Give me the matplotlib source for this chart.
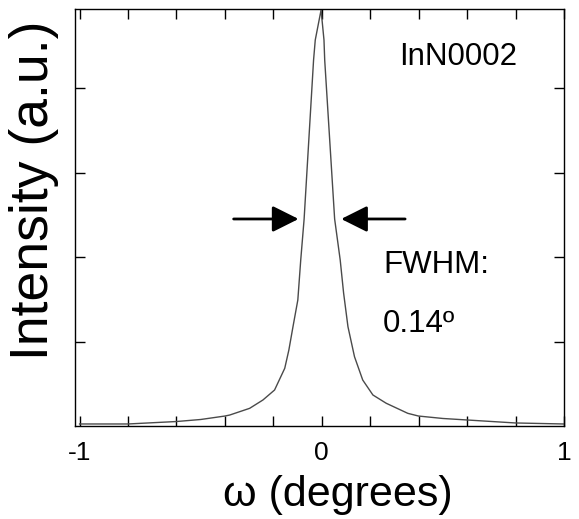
import matplotlib
matplotlib.use("Agg")
import matplotlib.pyplot as plt

plt.rcParams['font.family'] = ['Liberation Sans', 'DejaVu Sans']

# Data (omega in degrees, intensity in arbitrary units)
omega = [-1.0, -0.8, -0.6, -0.5, -0.4, -0.38, -0.298, -0.243, -0.195, -0.153,
         -0.136, -0.119, -0.099, -0.087, -0.073, -0.034, -0.027, -0.003,
         0.009, 0.012, 0.053, 0.076, 0.090, 0.108, 0.135, 0.169, 0.211,
         0.266, 0.355, 0.399, 0.5, 0.601, 0.799, 0.997]
intensity = [0.024, 0.024, 0.053, 0.077, 0.118, 0.130, 0.209, 0.308, 0.426, 0.683,
             0.899, 1.175, 1.491, 1.964, 2.450, 4.331, 4.568, 4.923,
             4.568, 4.331, 2.450, 1.964, 1.574, 1.175, 0.820, 0.544, 0.367,
             0.269, 0.150, 0.118, 0.089, 0.071, 0.036, 0.024]

x_major = [-1, 0, 1]
x_major_labels = ['-1', '0', '1']
x_minor = [-0.8, -0.6, -0.4, -0.2, 0.2, 0.4, 0.6, 0.8]
y_ticks = [1, 2, 3, 4]

fwhm_label = 'FWHM:'
fwhm_value = '0.14º'
sample_label = 'InN0002'

fig = plt.figure(figsize=(5.79, 5.19), dpi=100)
ax = fig.add_axes([75/579, 1 - 426/519, 489/579, 417/519])

ax.plot(omega, intensity, color='#4a4a4a', lw=1.0)

ax.set_xlim(-1.019, 0.998)
ax.set_ylim(0, 4.935)

ax.set_xticks(x_major)
ax.set_xticklabels(x_major_labels)
ax.set_xticks(x_minor, minor=True)
ax.set_yticks(y_ticks)
ax.set_yticklabels([])

ax.tick_params(axis='both', which='both', direction='in', length=7.2, width=1,
               top=True, right=True, color='black')
ax.tick_params(axis='x', which='major', labelsize=19, pad=10.5)
for s in ax.spines.values():
    s.set_linewidth(1.0)
    s.set_color('black')

ax.set_xlabel('ω (degrees)', fontsize=31, va='center')
ax.set_ylabel('Intensity (a.u.)', fontsize=38.5, va='center')
ax.xaxis.set_label_coords(0.538, (426 - 495) / 417)
ax.yaxis.set_label_coords((34 - 75) / 489, (426 - 190) / 417)

ax.text(0.321, 4.37, sample_label, fontsize=22.5, ha='left', va='center')
ax.text(0.255, 1.905, fwhm_label, fontsize=22.5, ha='left', va='center')
ax.text(0.252, 1.207, fwhm_value, fontsize=22.5, ha='left', va='center')

arrow_style = '-|>,head_length=0.8,head_width=0.4'
ax.annotate('', xy=(-0.096, 2.45), xytext=(-0.364, 2.45),
            arrowprops=dict(arrowstyle=arrow_style, mutation_scale=20, lw=2,
                            color='black', shrinkA=0, shrinkB=0))
ax.annotate('', xy=(0.080, 2.45), xytext=(0.344, 2.45),
            arrowprops=dict(arrowstyle=arrow_style, mutation_scale=20, lw=2,
                            color='black', shrinkA=0, shrinkB=0))

fig.savefig('out.png', dpi=100)
